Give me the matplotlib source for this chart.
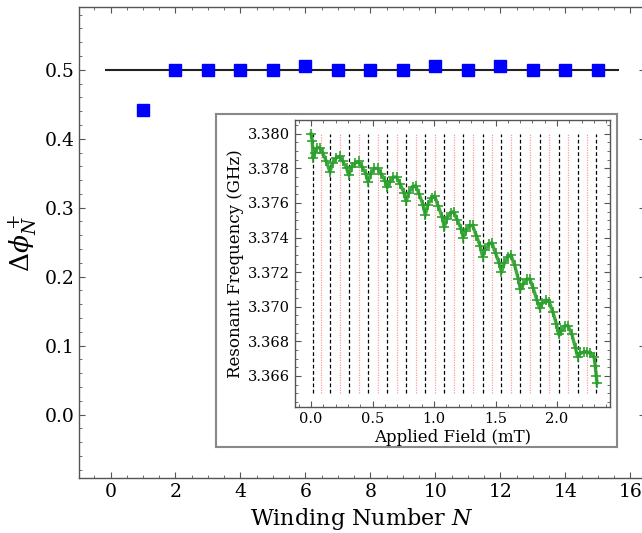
import matplotlib
matplotlib.use("Agg")
import matplotlib.pyplot as plt
from matplotlib.ticker import AutoMinorLocator, MultipleLocator

plt.rcParams['font.family'] = ['DejaVu Serif']
plt.rcParams['mathtext.fontset'] = 'dejavuserif'

# main panel: phase step per winding number
winding = [1, 2, 3, 4, 5, 6, 7, 8, 9, 10, 11, 12, 13, 14, 15]
dphi = [0.441, 0.500, 0.500, 0.500, 0.500, 0.506, 0.500, 0.500, 0.500,
        0.506, 0.500, 0.506, 0.500, 0.500, 0.500]

# inset: resonant frequency vs applied field
field = [0.000, 0.010, 0.016, 0.030, 0.050, 0.070, 0.095, 0.125, 0.154,
         0.175, 0.205, 0.233, 0.260, 0.290, 0.308,
         0.330, 0.360, 0.388, 0.415, 0.445, 0.463,
         0.485, 0.515, 0.542, 0.570, 0.600, 0.620,
         0.640, 0.670, 0.696, 0.725, 0.755, 0.774,
         0.795, 0.825, 0.850, 0.880, 0.910, 0.929,
         0.950, 0.980, 1.005, 1.035, 1.065, 1.083,
         1.105, 1.135, 1.159, 1.190, 1.220, 1.237,
         1.260, 1.290, 1.313, 1.345, 1.375, 1.394,
         1.415, 1.445, 1.470, 1.500, 1.530, 1.548,
         1.570, 1.600, 1.624, 1.655, 1.685, 1.702,
         1.725, 1.755, 1.778, 1.805, 1.835, 1.859,
         1.880, 1.910, 1.935, 1.965, 1.995, 2.013,
         2.035, 2.065, 2.089, 2.120, 2.150, 2.167,
         2.190, 2.220, 2.243, 2.270, 2.300, 2.310, 2.318, 2.325]
freq = [3.3800, 3.3796, 3.3786, 3.3789, 3.3792, 3.3792, 3.3789, 3.3784, 3.3778,
        3.3783, 3.3786, 3.3787, 3.3784, 3.3780, 3.3776,
        3.3781, 3.3783, 3.3784, 3.3781, 3.3777, 3.3772,
        3.3777, 3.3780, 3.3780, 3.3777, 3.3773, 3.3769,
        3.3772, 3.3775, 3.3775, 3.3771, 3.3766, 3.3761,
        3.3766, 3.3769, 3.3770, 3.3765, 3.3759, 3.3753,
        3.3759, 3.3763, 3.3764, 3.3758, 3.3752, 3.3746,
        3.3751, 3.3754, 3.3755, 3.3750, 3.3745, 3.3740,
        3.3744, 3.3747, 3.3747, 3.3741, 3.3735, 3.3729,
        3.3733, 3.3736, 3.3737, 3.3731, 3.3725, 3.3720,
        3.3725, 3.3729, 3.3730, 3.3724, 3.3716, 3.3710,
        3.3713, 3.3716, 3.3716, 3.3711, 3.3704, 3.3699,
        3.3702, 3.3704, 3.3703, 3.3697, 3.3690, 3.3684,
        3.3686, 3.3689, 3.3689, 3.3684, 3.3676, 3.3671,
        3.3673, 3.3674, 3.3674, 3.3673, 3.3671, 3.3666, 3.3660, 3.3656]

black_lines = [0.016, 0.154, 0.308, 0.463, 0.620, 0.774, 0.929, 1.083, 1.237,
               1.394, 1.548, 1.702, 1.859, 2.013, 2.167, 2.318]
red_lines = [0.084, 0.233, 0.388, 0.542, 0.696, 0.850, 1.005, 1.159, 1.313,
             1.470, 1.624, 1.778, 1.935, 2.089, 2.243]

spine_c = '#555555'


def style_axes(ax, size):
    for s in ax.spines.values():
        s.set_color(spine_c)
        s.set_linewidth(1.0)
    ax.tick_params(which='both', direction='in', top=True, right=True,
                   colors=spine_c, labelcolor='black', labelsize=size)
    ax.tick_params(which='major', length=4, width=0.8)
    ax.tick_params(which='minor', length=2, width=0.6)


fig = plt.figure(figsize=(6.42, 5.33), dpi=100)

ax = fig.add_axes([79 / 642, 1 - 478 / 533, 566 / 642, 471 / 533])
ax.hlines(0.5, -0.17, 15.65, color='#222222', lw=1.5, zorder=1)
ax.plot(winding, dphi, 's', color='#0000ff', ms=8.5, zorder=2)
ax.set_xlim(-0.97, 16.45)
ax.set_ylim(-0.092, 0.591)
ax.xaxis.set_major_locator(MultipleLocator(2))
ax.xaxis.set_minor_locator(AutoMinorLocator(4))
ax.yaxis.set_major_locator(MultipleLocator(0.1))
ax.yaxis.set_minor_locator(AutoMinorLocator(5))
style_axes(ax, 13.5)
ax.set_xlabel('Winding Number $N$', fontsize=16)
ax.set_ylabel(r'$\Delta\phi_N^+$', fontsize=19)

# white framed box behind the inset
box = fig.add_axes([216 / 642, 1 - 447 / 533, 401 / 642, 333 / 533])
box.set_xticks([])
box.set_yticks([])
for s in box.spines.values():
    s.set_color('#888888')
    s.set_linewidth(1.5)

ins = fig.add_axes([295 / 642, 1 - 407 / 533, 315 / 642, 287 / 533])
ins.vlines(black_lines, 3.365, 3.380, colors='black', linestyles=(0, (3, 2)), lw=0.9)
ins.vlines(red_lines, 3.365, 3.380, colors='#ff9999', linestyles=(0, (1, 1)), lw=0.9)
ins.plot(field, freq, '+-', color='#2ca02c', ms=7, mew=1.3, lw=2.4, alpha=0.9)
ins.set_xlim(-0.13, 2.43)
ins.set_ylim(3.3642, 3.3808)
ins.xaxis.set_major_locator(MultipleLocator(0.5))
ins.xaxis.set_minor_locator(AutoMinorLocator(5))
ins.yaxis.set_major_locator(MultipleLocator(0.002))
ins.yaxis.set_minor_locator(AutoMinorLocator(4))
ins.yaxis.set_major_formatter(plt.FormatStrFormatter('%.3f'))
style_axes(ins, 10.5)
ins.set_xlabel('Applied Field (mT)', fontsize=12, labelpad=2)
ins.set_ylabel('Resonant Frequency (GHz)', fontsize=12, labelpad=3)

fig.savefig('out.png', dpi=100)
